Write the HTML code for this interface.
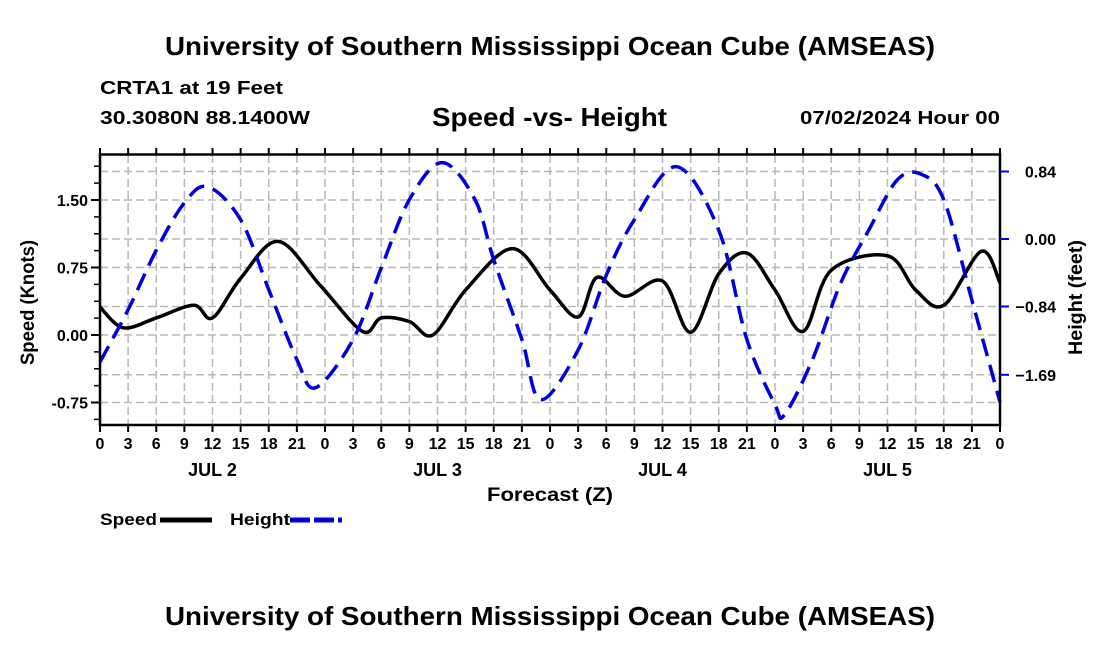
<!DOCTYPE html>
<html><head><meta charset="utf-8"><style>
body{margin:0;background:#fff}
svg text{font-family:"Liberation Sans",Arial,sans-serif;font-weight:bold;fill:#000}
</style></head><body>
<svg id="c" width="1100" height="650" viewBox="0 0 1100 650">
<text x="165" y="55" font-size="26" textLength="770" lengthAdjust="spacingAndGlyphs">University of Southern Mississippi Ocean Cube (AMSEAS)</text>
<text x="100" y="94" font-size="18" textLength="183" lengthAdjust="spacingAndGlyphs">CRTA1 at 19 Feet</text>
<text x="100" y="124" font-size="18" textLength="210" lengthAdjust="spacingAndGlyphs">30.3080N  88.1400W</text>
<text x="432" y="126" font-size="26" textLength="235" lengthAdjust="spacingAndGlyphs">Speed -vs- Height</text>
<text x="800" y="124" font-size="18" textLength="200" lengthAdjust="spacingAndGlyphs">07/02/2024 Hour 00</text>
<g id="grid"></g>
<g id="series"></g>
<rect x="100" y="154.5" width="900" height="270.5" fill="none" stroke="#000" stroke-width="2.5"/>
<g id="axes"></g>
<text x="487" y="501" font-size="19" textLength="126" lengthAdjust="spacingAndGlyphs">Forecast (Z)</text>
<text transform="translate(34,365) rotate(-90)" font-size="19" textLength="125" lengthAdjust="spacingAndGlyphs">Speed (Knots)</text>
<text transform="translate(1082,355) rotate(-90)" font-size="19" textLength="115" lengthAdjust="spacingAndGlyphs">Height (feet)</text>
<g><text x="100" y="525" font-size="17" textLength="57" lengthAdjust="spacingAndGlyphs">Speed</text><line x1="160" y1="520" x2="212" y2="520" stroke="#000" stroke-width="5"/></g>
<g><text x="230" y="525" font-size="17" textLength="60" lengthAdjust="spacingAndGlyphs">Height</text><line x1="290" y1="520" x2="342" y2="520" stroke="#0000dd" stroke-width="5" stroke-dasharray="20,4"/></g>
<text x="165" y="625" font-size="26" textLength="770" lengthAdjust="spacingAndGlyphs">University of Southern Mississippi Ocean Cube (AMSEAS)</text>
</svg>
<script>
const speedHours=[0,2.5,6,10,12,15,19,23.5,28,30,33,35.5,39,44,48,51,53,56,60,63,66,69,72,75,78,84,87,90,94,96];
const speedValues=[0.31,0.08,0.19,0.33,0.19,0.63,1.04,0.55,0.04,0.19,0.15,0.0,0.5,0.96,0.5,0.2,0.64,0.43,0.6,0.03,0.68,0.91,0.5,0.04,0.72,0.88,0.5,0.33,0.93,0.58];
const heightHours=[0,3,6,9,11.5,15,18,21,23,27,30,33,36.5,40,42,45,47,51,54,57,61.5,66,69,72,73,76,79,82,85,87.5,90,93,96];
const heightValues=[-1.53,-0.88,-0.14,0.45,0.65,0.24,-0.63,-1.5,-1.85,-1.25,-0.36,0.49,0.95,0.49,-0.26,-1.25,-2.0,-1.38,-0.45,0.24,0.9,0.11,-1.25,-2.06,-2.19,-1.5,-0.55,0.11,0.73,0.81,0.49,-0.76,-2.03];
const speedTicks=[1.5,0.75,0,-0.75];
const speedTickLabels=["1.50","0.75","0.00","-0.75"];
const heightTicks=[0.84,0,-0.84,-1.69];
const heightTickLabels=["0.84","0.00","\u22120.84","\u22121.69"];
const dayLabels=["JUL 2","JUL 3","JUL 4","JUL 5"];
const NS="http://www.w3.org/2000/svg";
const X=h=>100+h*900/96;
const YS=v=>335-v*90;
const YH=v=>239-v*80.36;
function mk(tag,attrs,parent){const e=document.createElementNS(NS,tag);for(const k in attrs)e.setAttribute(k,attrs[k]);parent.appendChild(e);return e;}
const grid=document.getElementById('grid'),axes=document.getElementById('axes'),ser=document.getElementById('series');
for(let h=3;h<96;h+=3){const l=mk('line',{x1:X(h),x2:X(h),y1:155,y2:425,stroke:'#b8b8b8','stroke-width':1.5,'stroke-dasharray':'8,4'},grid);

}
const hl=[...speedTicks.map(YS),...heightTicks.map(YH)];
hl.forEach(y=>{const l=mk('line',{x1:100,x2:1000,y1:y,y2:y,stroke:'#b8b8b8','stroke-width':1.5,'stroke-dasharray':'8,4'},grid);

});
for(let h=0;h<=96;h+=3){
mk('line',{x1:X(h),x2:X(h),y1:148,y2:155,stroke:'#000','stroke-width':2},axes);
mk('line',{x1:X(h),x2:X(h),y1:425,y2:432,stroke:'#000','stroke-width':2},axes);
const t=mk('text',{x:X(h),y:449,'font-size':16,'text-anchor':'middle'},axes);t.textContent=String(h%24);

}
dayLabels.forEach((d,i)=>{const t=mk('text',{x:X(i*24+12),y:476,'font-size':18,'text-anchor':'middle'},axes);t.textContent=d;

});
for(let v=-0.9375;v<2;v+=0.1875){mk('line',{x1:94,x2:100,y1:YS(v),y2:YS(v),stroke:'#000','stroke-width':1.5},axes);}
speedTicks.forEach((v,i)=>{mk('line',{x1:91,x2:100,y1:YS(v),y2:YS(v),stroke:'#000','stroke-width':2},axes);
const t=mk('text',{x:88,y:YS(v)+6,'font-size':16,'text-anchor':'end'},axes);t.textContent=speedTickLabels[i];

});
heightTicks.forEach((v,i)=>{mk('line',{x1:1000,x2:1009,y1:YH(v),y2:YH(v),stroke:'#0000dd','stroke-width':2},axes);
const t=mk('text',{x:1056,y:YH(v)+6,'font-size':16,'text-anchor':'end'},axes);t.textContent=heightTickLabels[i];

});
function spline(xs,ys){const p=xs.map((x,i)=>[x,ys[i]]);let d=`M${p[0][0]},${p[0][1]}`;
for(let i=0;i<p.length-1;i++){const p0=p[i-1]||p[i],p1=p[i],p2=p[i+1],p3=p[i+2]||p2;
d+=` C${p1[0]+(p2[0]-p0[0])/6},${p1[1]+(p2[1]-p0[1])/6} ${p2[0]-(p3[0]-p1[0])/6},${p2[1]-(p3[1]-p1[1])/6} ${p2[0]},${p2[1]}`;}return d;}
const sp=mk('path',{d:spline(speedHours.map(X),speedValues.map(YS)),fill:'none',stroke:'#000','stroke-width':3.5,'stroke-linejoin':'round'},ser);


const hp=mk('path',{d:spline(heightHours.map(X),heightValues.map(YH)),fill:'none',stroke:'#0000dd','stroke-width':3.5,'stroke-dasharray':'18,9'},ser);


</script>
</body></html>
